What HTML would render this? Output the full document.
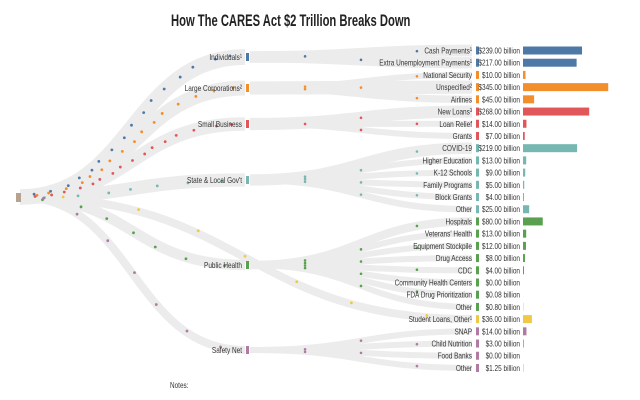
<!DOCTYPE html>
<html><head><meta charset="utf-8">
<style>
body{margin:0;background:#fff;width:640px;height:400px;overflow:hidden;font-family:"Liberation Sans",sans-serif}
svg{display:block}
.lbl{font-size:8.5px;fill:#333}
</style></head>
<body>
<svg id="chart" width="640" height="400">
<text x="171" y="26" font-size="17" font-weight="bold" fill="#222" transform="translate(171,0) scale(0.66,1) translate(-171,0)">How The CARES Act $2 Trillion Breaks Down</text>
<text x="170" y="388" font-size="8" fill="#333" transform="translate(170,0) scale(0.8,1) translate(-170,0)">Notes:</text>
<g id="bands"></g><g id="dots"></g><g id="labels"></g>
</svg>
<script>
const groups = ["Individuals¹","Large Corporations²","Small Business","State & Local Gov't","Public Health","","Safety Net"];
const groupColors = ["#4e79a7","#f28e2b","#e15759","#76b7b2","#59a14f","#edc948","#b07aa1"];
const groupY = [57,88,124,180,265,320,350];
const items = ["Cash Payments¹","Extra Unemployment Payments¹","National Security","Unspecified²","Airlines","New Loans³","Loan Relief","Grants","COVID-19","Higher Education","K-12 Schools","Family Programs","Block Grants","Other","Hospitals","Veterans' Health","Equipment Stockpile","Drug Access","CDC","Community Health Centers","FDA Drug Prioritization","Other","Student Loans, Other¹","SNAP","Child Nutrition","Food Banks","Other"];
const itemGroup = [0,0,1,1,1,2,2,2,3,3,3,3,3,3,4,4,4,4,4,4,4,4,5,6,6,6,6];
const values = [239,217,10,345,45,268,14,7,219,13,9,5,4,25,80,13,12,8,4,0,0.08,0.8,36,14,3,0,1.25];

const NS="http://www.w3.org/2000/svg";
const bandsG=document.getElementById('bands'),dotsG=document.getElementById('dots'),labG=document.getElementById('labels');
const rowY=i=>50.5+i*12.21;
const barX=v=>523+v*0.247;
const bandW=v=>5+Math.sqrt(v)*0.5;
function mk(tag,attrs,parent){const e=document.createElementNS(NS,tag);for(const k in attrs)e.setAttribute(k,attrs[k]);parent.appendChild(e);return e;}
function bez(x0,y0,x1,y1,t){const mx=(x0+x1)/2;const u=1-t;
 const x=u*u*u*x0+3*u*u*t*mx+3*u*t*t*mx+t*t*t*x1;const y=u*u*u*y0+3*u*u*t*y0+3*u*t*t*y1+t*t*t*y1;return [x,y];}
function pathD(x0,y0,x1,y1){const mx=(x0+x1)/2;return `M${x0},${y0}C${mx},${y0} ${mx},${y1} ${x1},${y1}`;}
const tsA=[0.05,0.1,0.16,0.22,0.27,0.32,0.38,0.44,0.5,0.56,0.62,0.68,0.75,0.82,0.9,0.96];

const src=mk('rect',{x:16,y:193,width:5,height:9,fill:'#b5a38f'},labG);



groups.forEach((g,gi)=>{
  const tot=values.reduce((s,v,i)=>s+(itemGroup[i]===gi?v:0),0);
  const x1 = g ? 245 : 472;
  const y1 = g ? groupY[gi] : rowY(itemGroup.indexOf(gi));
  const p=mk('path',{d:pathD(20,197,x1,y1),fill:'none',stroke:'#ececec','stroke-width':Math.max(8,bandW(tot))},bandsG);
  
  
  const n = gi<3 ? tsA.length : 7;
  tsA.slice(0,n).forEach((t0,k)=>{const t = gi<3 ? t0 : (k+0.5)/n; const [x,y]=bez(20,197,x1,y1,t);
    const d=mk('circle',{cx:x+((k*7+gi*3)%5-2),cy:y+((k*5+gi)%5-2)*0.9,r:1.4,fill:groupColors[gi]},dotsG);
    
    });
  if(g){
    const t=mk('text',{x:242,y:groupY[gi]+3,'text-anchor':'end',class:'lbl'},labG);t.textContent=g;
    
    
    const r=mk('rect',{x:246,y:groupY[gi]-4,width:3,height:8,fill:groupColors[gi]},labG);
    
    
  }
});

items.forEach((it,i)=>{
  const gi=itemGroup[i],y=rowY(i),col=groupColors[gi];
  if(groups[gi]){
    const p=mk('path',{d:pathD(250,groupY[gi],472,y),fill:'none',stroke:'#ececec','stroke-width':Math.max(6,bandW(values[i])-1)},bandsG);
    
    
    [0.2,0.5,0.8].forEach((t,k)=>{ if((i+k)%2) return; const [x,yy]=bez(250,groupY[gi],472,y,t);
      const d=mk('circle',{cx:x,cy:yy,r:1.3,fill:col},dotsG);
      
      });
  }
  const t=mk('text',{x:472,y:y+3,'text-anchor':'end',class:'lbl'},labG);t.textContent=it;
  
  
  const m=mk('rect',{x:476,y:y-4,width:3,height:8,fill:col},labG);
  
  
  const vt=mk('text',{x:520,y:y+3,'text-anchor':'end',class:'lbl'},labG);vt.textContent='$'+values[i].toFixed(2)+' billion';
  
  
  const b=mk('rect',{x:523,y:y-4,width:Math.max(0,barX(values[i])-523),height:8,fill:col},labG);
  
  
});
document.querySelectorAll('.lbl').forEach(e=>{const x=+e.getAttribute('x');e.setAttribute('transform',`translate(${x},0) scale(0.76,1) translate(${-x},0)`);});
</script>
</body></html>
